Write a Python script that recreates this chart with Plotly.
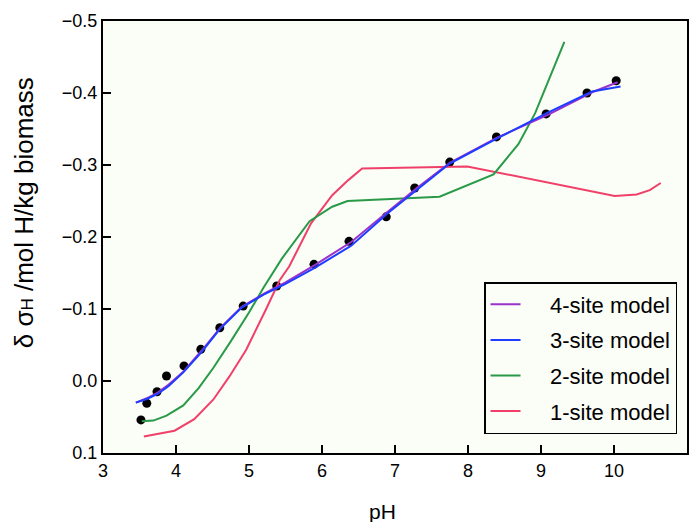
import plotly.graph_objects as go

# Measured data
data_ph = [3.52, 3.60, 3.74, 3.87, 4.11, 4.34, 4.60, 4.92, 5.38, 5.89, 6.37, 6.88, 7.27, 7.75, 8.39, 9.07, 9.63, 10.03]
data_y = [0.054, 0.031, 0.015, -0.007, -0.021, -0.044, -0.074, -0.104, -0.132, -0.162, -0.194, -0.228, -0.268, -0.304, -0.339, -0.371, -0.400, -0.417]

# 4-site model
m4_ph = [3.45, 3.60, 3.75, 3.90, 4.10, 4.35, 4.60, 4.90, 5.20, 5.50, 5.90, 6.40, 6.90, 7.30, 7.75, 8.40, 9.10, 9.70, 10.05]
m4_y = [0.030, 0.024, 0.016, 0.005, -0.013, -0.042, -0.073, -0.103, -0.121, -0.137, -0.161, -0.193, -0.235, -0.268, -0.303, -0.338, -0.370, -0.401, -0.415]

# 3-site model
m3_ph = [3.45, 3.60, 3.75, 3.90, 4.10, 4.35, 4.60, 4.90, 5.20, 5.50, 5.90, 6.40, 6.90, 7.30, 7.75, 8.40, 9.10, 9.70, 10.09]
m3_y = [0.030, 0.025, 0.018, 0.007, -0.012, -0.040, -0.072, -0.102, -0.120, -0.135, -0.157, -0.188, -0.233, -0.266, -0.302, -0.337, -0.373, -0.402, -0.409]

# 2-site model
m2_ph = [3.53, 3.69, 3.87, 4.10, 4.31, 4.51, 4.75, 5.00, 5.20, 5.45, 5.83, 6.14, 6.35, 7.61, 8.35, 8.69, 8.92, 9.13, 9.32]
m2_y = [0.056, 0.055, 0.048, 0.034, 0.010, -0.018, -0.055, -0.095, -0.130, -0.170, -0.222, -0.242, -0.250, -0.256, -0.287, -0.329, -0.372, -0.425, -0.471]

# 1-site model
m1_ph = [3.56, 3.98, 4.25, 4.51, 4.73, 4.96, 5.23, 5.42, 5.55, 5.85, 6.14, 6.36, 6.55, 7.99, 10.01, 10.31, 10.49, 10.64]
m1_y = [0.077, 0.069, 0.053, 0.026, -0.006, -0.043, -0.099, -0.140, -0.159, -0.219, -0.258, -0.279, -0.295, -0.298, -0.257, -0.259, -0.265, -0.275]

x_ticks = [3, 4, 5, 6, 7, 8, 9, 10, 11]
y_ticks = [0.1, 0.0, -0.1, -0.2, -0.3, -0.4, -0.5]
y_tick_labels = ["0.1", "0.0", "\u22120.1", "\u22120.2", "\u22120.3", "\u22120.4", "\u22120.5"]

x_title = "pH"
y_title = "\u03b4 \u03c3<span style=\"font-size:17px\">H</span> /mol H/kg biomass"
pad = "\u00a0\u00a0\u00a0\u00a0"

fig = go.Figure()
fig.add_trace(go.Scatter(x=data_ph, y=data_y, mode="markers",
                         marker=dict(color="black", size=9), showlegend=False))
fig.add_trace(go.Scatter(x=m1_ph, y=m1_y, mode="lines", name=pad + "1-site model",
                         line=dict(color="#f0406a", width=2), legendrank=4, legendgroup="d"))
fig.add_trace(go.Scatter(x=m2_ph, y=m2_y, mode="lines", name=pad + "2-site model",
                         line=dict(color="#2a9a48", width=2), legendrank=3, legendgroup="c"))
fig.add_trace(go.Scatter(x=m4_ph, y=m4_y, mode="lines", name=pad + "4-site model",
                         line=dict(color="#9933cc", width=2), legendrank=1, legendgroup="a"))
fig.add_trace(go.Scatter(x=m3_ph, y=m3_y, mode="lines", name=pad + "3-site model",
                         line=dict(color="#1f3dff", width=2), legendrank=2, legendgroup="b"))

font_family = "Liberation Sans, Arial, sans-serif"
fig.update_layout(
    width=693, height=522,
    margin=dict(l=103, r=4, t=21, b=69),
    paper_bgcolor="white",
    plot_bgcolor="#fbfdf7",
    font=dict(family=font_family, color="black", size=18),
    legend=dict(x=(679 - 103) / 586, y=(453 - 434) / 432, xanchor="right", yanchor="bottom",
                bgcolor="#fbfdf7", bordercolor="black", borderwidth=1.5,
                font=dict(size=22), traceorder="grouped", tracegroupgap=4),
    xaxis=dict(range=[3, 11], tickvals=x_ticks, ticks="inside", ticklen=8, tickwidth=1.5,
               tickcolor="black", showline=True, linecolor="black", linewidth=2, mirror=True,
               showgrid=False, zeroline=False),
    yaxis=dict(range=[0.1, -0.5], tickvals=y_ticks, ticktext=y_tick_labels, ticks="inside",
               ticklen=8, tickwidth=1.5, tickcolor="black", showline=True, linecolor="black",
               linewidth=2, mirror=True, showgrid=False, zeroline=False),
    annotations=[
        dict(text=x_title, xref="paper", yref="paper", x=(383 - 103) / 586, y=-(511 - 453) / 432,
             xanchor="center", yanchor="middle", showarrow=False, font=dict(size=21)),
        dict(text=y_title, xref="paper", yref="paper", x=-(103 - 24) / 586, y=(453 - 213) / 432,
             xanchor="center", yanchor="middle", showarrow=False, textangle=-90,
             font=dict(size=26)),
    ],
)

fig.write_html("out.html")
